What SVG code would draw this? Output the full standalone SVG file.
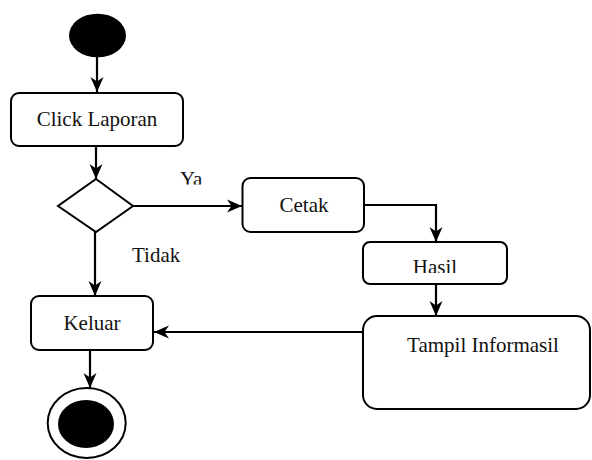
<svg xmlns="http://www.w3.org/2000/svg" width="592" height="460" viewBox="0 0 592 460">
<style>
.box{fill:#fff;stroke:#000;stroke-width:2}
.t{font-family:"Liberation Serif","Times New Roman","DejaVu Serif",serif;font-size:21px;fill:#111}
.c{text-anchor:middle}
.conn path{fill:none;stroke:#000;stroke-width:2.2}
</style>
<defs>
<marker id="ah" markerUnits="userSpaceOnUse" markerWidth="16" markerHeight="14" refX="15" refY="7" orient="auto">
<path d="M0,0.5 L15,7 L0,13.5 L4.5,7 z" fill="#000"/>
</marker>
<clipPath id="clipYa"><rect x="170" y="160" width="50" height="24.5"/></clipPath>
<clipPath id="clipHasil"><rect x="400" y="250" width="70" height="23"/></clipPath>
</defs>
<rect width="592" height="460" fill="#fff"/>
<g id="start"><ellipse cx="97.5" cy="35.5" rx="28.5" ry="21.8" fill="#000"/></g>
<g id="click"><rect class="box" x="11" y="93" width="172" height="53" rx="8"/><text class="t c" font-family="Liberation Serif, serif" x="97" y="126">Click Laporan</text></g>
<g id="decision"><polygon class="box" points="96,179 133,206 96,232 58,206"/></g>
<g id="cetak"><rect class="box" x="242.5" y="178" width="121.5" height="54" rx="8"/><text class="t c" font-family="Liberation Serif, serif" x="304" y="212">Cetak</text></g>
<g id="hasil"><rect class="box" x="363" y="242" width="144" height="42" rx="7"/><text class="t c" font-family="Liberation Serif, serif" x="435" y="274" clip-path="url(#clipHasil)">Hasil</text></g>
<g id="tampil"><rect class="box" x="363" y="316" width="227" height="93" rx="14"/><text class="t c" font-family="Liberation Serif, serif" x="483" y="352">Tampil Informasil</text></g>
<g id="keluar"><rect class="box" x="31" y="296" width="122" height="54" rx="8"/><text class="t c" font-family="Liberation Serif, serif" x="92" y="330">Keluar</text></g>
<g id="end"><ellipse cx="86.7" cy="423" rx="39" ry="35" fill="#fff" stroke="#000" stroke-width="2"/><ellipse cx="86" cy="424" rx="28" ry="24" fill="#000"/></g>
<g id="labels"><text class="t" font-family="Liberation Serif, serif" x="180" y="186" clip-path="url(#clipYa)">Ya</text><text class="t" font-family="Liberation Serif, serif" x="132" y="262">Tidak</text></g>
<g class="conn" id="connectors">
<path d="M97,57 L97,92" marker-end="url(#ah)"/>
<path d="M96,146 L96,179" marker-end="url(#ah)"/>
<path d="M133,206 L242,206" marker-end="url(#ah)"/>
<path d="M364,205 L436,205 L436,242" marker-end="url(#ah)"/>
<path d="M436,284 L436,316" marker-end="url(#ah)"/>
<path d="M363,332 L154,332" marker-end="url(#ah)"/>
<path d="M95,232 L95,296" marker-end="url(#ah)"/>
<path d="M90,350 L90,388" marker-end="url(#ah)"/>
</g>
</svg>
